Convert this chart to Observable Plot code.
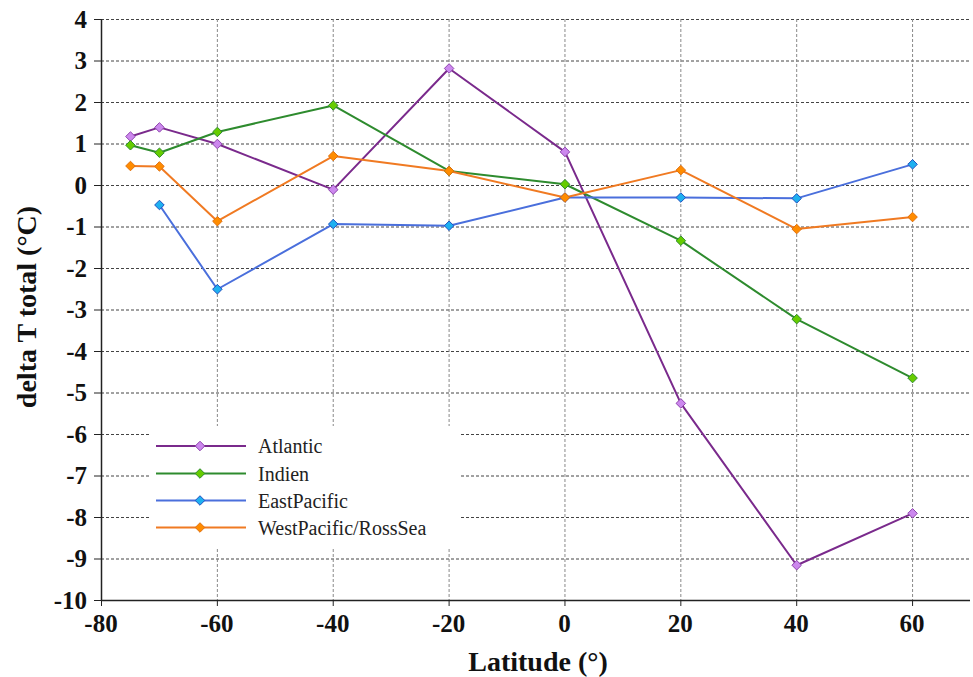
<!DOCTYPE html>
<html>
<head>
<meta charset="utf-8">
<script src="https://cdn.jsdelivr.net/npm/d3@7"></script>
<script src="https://cdn.jsdelivr.net/npm/@observablehq/plot@0.6"></script>
<style>
  html, body { margin: 0; padding: 0; background: #fff; }
  #chart svg { display: block; }
</style>
</head>
<body>
<div id="chart"></div>
<script>
const seriesNames = ["Atlantic", "Indien", "EastPacific", "WestPacific/RossSea"];
const latAtlantic = [-75, -70, -60, -40, -20, 0, 20, 40, 60];
const valAtlantic = [1.18, 1.40, 1.00, -0.10, 2.82, 0.81, -5.25, -9.15, -7.90];
const latIndien = [-75, -70, -60, -40, -20, 0, 20, 40, 60];
const valIndien = [0.97, 0.79, 1.29, 1.93, 0.35, 0.03, -1.33, -3.22, -4.64];
const latEastPacific = [-70, -60, -40, -20, 0, 20, 40, 60];
const valEastPacific = [-0.47, -2.50, -0.93, -0.97, -0.29, -0.29, -0.31, 0.51];
const latWestPacific = [-75, -70, -60, -40, -20, 0, 20, 40, 60];
const valWestPacific = [0.47, 0.46, -0.86, 0.71, 0.35, -0.29, 0.37, -1.05, -0.76];
const xTicks = [-80, -60, -40, -20, 0, 20, 40, 60];
const yTicks = [-10, -9, -8, -7, -6, -5, -4, -3, -2, -1, 0, 1, 2, 3, 4];

const lineColors = ["#7a2a8c", "#2e8b2e", "#4a6fdc", "#f07a22"];
const fillColors = ["#cc88ee", "#66cc00", "#1eb0f0", "#ff8c00"];
const strokeColors = ["#8e44ad", "#2e8b2e", "#2050c0", "#e07010"];

const lats = [latAtlantic, latIndien, latEastPacific, latWestPacific];
const vals = [valAtlantic, valIndien, valEastPacific, valWestPacific];
const data = [];
seriesNames.forEach((s, i) => lats[i].forEach((x, j) => data.push({series: s, idx: i, x, y: vals[i][j]})));

const marks = [
  Plot.gridY(yTicks, {stroke: "#444", strokeOpacity: 1, strokeDasharray: "3,2", strokeWidth: 1}),
  Plot.gridX(xTicks.filter(d => d !== -80), {stroke: "#888", strokeOpacity: 1, strokeDasharray: "3,2", strokeWidth: 1}),
];
seriesNames.forEach((s, i) => {
  const sub = data.filter(d => d.idx === i);
  marks.push(Plot.line(sub, {x: "x", y: "y", stroke: lineColors[i], strokeWidth: 2}));
});
seriesNames.forEach((s, i) => {
  const sub = data.filter(d => d.idx === i);
  marks.push(Plot.dot(sub, {x: "x", y: "y", symbol: "diamond2", r: 4.3, fill: fillColors[i], stroke: strokeColors[i], strokeWidth: 1}));
});
marks.push(
  Plot.ruleX([-80], {stroke: "#222", strokeWidth: 1.5}),
  Plot.ruleY([-10], {stroke: "#222", strokeWidth: 1.5}),
  Plot.axisX(xTicks, {tickSize: 6, tickFormat: () => "", label: null, stroke: "#222"}),
  Plot.axisY(yTicks, {tickSize: 7, tickFormat: () => "", label: null, stroke: "#222"})
);

const plot = Plot.plot({
  width: 973,
  height: 677,
  marginLeft: 101,
  marginRight: 3,
  marginTop: 19,
  marginBottom: 77,
  x: {domain: [-80, 70]},
  y: {domain: [-10, 4]},
  style: {fontFamily: "'Liberation Serif', 'Times New Roman', serif", color: "#111", background: "#fff"},
  marks
});

const svg = d3.select(plot);
const sx = plot.scale("x"), sy = plot.scale("y");
const fmt = d => String(d);
const lab = svg.append("g")
  .style("font-family", "'Liberation Serif', serif")
  .style("font-weight", "bold").style("font-size", "25px").attr("fill", "#111");
xTicks.forEach(v => {
  lab.append("text").attr("x", sx.apply(v)).attr("y", 632).attr("text-anchor", "middle").text(fmt(v));
});
yTicks.forEach(v => {
  lab.append("text").attr("x", 87).attr("y", sy.apply(v)).attr("dy", "0.35em").attr("text-anchor", "end").text(fmt(v));
});

// Axis titles
svg.append("text")
  .attr("x", 538).attr("y", 671)
  .attr("text-anchor", "middle")
  .style("font-family", "'Liberation Serif', serif")
  .style("font-weight", "bold").style("font-size", "28px").attr("fill", "#111")
  .text("Latitude (°)");
svg.append("text")
  .attr("transform", "translate(36,307) rotate(-90)")
  .attr("text-anchor", "middle")
  .style("font-family", "'Liberation Serif', serif")
  .style("font-weight", "bold").style("font-size", "28px").attr("fill", "#111")
  .text("delta T total (°C)");

// Legend
const lg = svg.append("g");
lg.append("rect").attr("x", 150).attr("y", 426).attr("width", 310).attr("height", 123).attr("fill", "#fff");
const rowY = [446, 473.5, 500.5, 527.5];
const sym = d3.symbol(d3.symbolDiamond2, 4.3 * 4.3 * Math.PI)();
seriesNames.forEach((s, i) => {
  lg.append("line").attr("x1", 156).attr("x2", 246).attr("y1", rowY[i]).attr("y2", rowY[i])
    .attr("stroke", lineColors[i]).attr("stroke-width", 2);
  lg.append("path").attr("d", sym).attr("transform", `translate(200,${rowY[i]})`)
    .attr("fill", fillColors[i]).attr("stroke", strokeColors[i]).attr("stroke-width", 1);
  lg.append("text").attr("x", 258).attr("y", rowY[i]).attr("dy", "0.35em")
    .attr("text-anchor", "start")
    .style("font-family", "'Liberation Serif', serif").style("font-size", "20px").attr("fill", "#222")
    .text(s);
});

document.getElementById("chart").appendChild(plot);
</script>
</body>
</html>
